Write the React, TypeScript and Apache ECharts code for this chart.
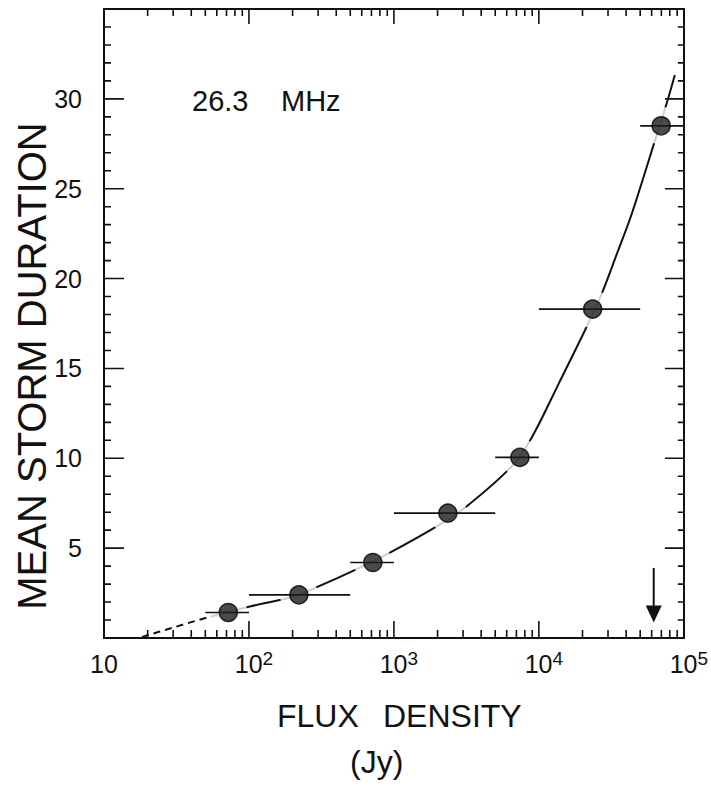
import React, { useEffect, useRef } from "react";
import * as echarts from "echarts";

// Flux density (Jy) vs mean storm duration, 26.3 MHz
const pointFlux = [72, 221, 716, 2356, 7400, 23500, 69800];
const pointDuration = [1.42, 2.4, 4.2, 6.95, 10.05, 18.3, 28.5];
const fluxLow = [50, 100, 500, 1000, 5000, 10000, 50000];
const fluxHigh = [100, 500, 1000, 5000, 10000, 50000, 100000];

// fitted curve: dashed lead-in, then the solid part
const leadFlux = [18.3, 29.4, 53, 72];
const leadDuration = [0.06, 0.56, 1.17, 1.44];
const curveFlux = [72, 105, 198, 294, 574, 925, 2042, 3184, 6516, 8954, 13740, 21090, 27180, 33960, 43760, 64090, 76380, 86700];
const curveDuration = [1.44, 1.78, 2.28, 2.83, 3.89, 4.72, 6.28, 7.33, 9.56, 11.17, 14.17, 17.22, 19.17, 21.22, 23.61, 27.83, 29.78, 31.33];

// upper-limit arrow
const arrowFlux = 62000;
const arrowTop = 3.9;
const arrowHead = 1.33;

// axis ranges and ticks
const xMin = 10;
const xMax = 100000;
const yMin = 0;
const yMax = 35;
const yStep = 5;
const xTicks = [10, 20, 30, 40, 50, 60, 70, 80, 90, 100, 200, 300, 400, 500, 600, 700, 800, 900, 1000, 2000, 3000, 4000, 5000, 6000, 7000, 8000, 9000, 10000, 20000, 30000, 40000, 50000, 60000, 70000, 80000, 90000, 100000];
const yTicks = [0, 1, 2, 3, 4, 5, 6, 7, 8, 9, 10, 11, 12, 13, 14, 15, 16, 17, 18, 19, 20, 21, 22, 23, 24, 25, 26, 27, 28, 29, 30, 31, 32, 33, 34, 35];

const FONT = "'Liberation Sans', Arial, sans-serif";
const INK = "#111";

// plot box in pixels
const GRID = { left: 104, top: 9, width: 582, height: 629 };
const pxPerUnit = GRID.height / (yMax - yMin);
const pxPerDecade = GRID.width / Math.log10(xMax / xMin);

const zip = (a: number[], b: number[]) => a.map((v, i) => [v, b[i]]);
const isDecade = (v: number) => Math.abs(Math.log10(v) - Math.round(Math.log10(v))) < 1e-9;
const isFive = (v: number) => v % yStep === 0;

// tick combs: run along a frame side and out to each tick and back
const bottomComb = xTicks.flatMap((v) => {
  const h = (isDecade(v) ? 17 : 8) / pxPerUnit;
  return [[v, yMin], [v, yMin + h], [v, yMin]];
});
const topComb = xTicks.flatMap((v) => {
  const h = (isDecade(v) ? 15 : 7) / pxPerUnit;
  return [[v, yMax], [v, yMax - h], [v, yMax]];
});
const leftComb = yTicks.flatMap((v) => {
  const f = Math.pow(10, (isFive(v) ? 20 : 7) / pxPerDecade);
  return [[xMin, v], [xMin * f, v], [xMin, v]];
});
const rightComb = yTicks.flatMap((v) => {
  const f = Math.pow(10, (isFive(v) ? 19 : 6) / pxPerDecade);
  return [[xMax, v], [xMax / f, v], [xMax, v]];
});

const textGraphics = [
  { type: "text", left: 192, top: 86, style: { text: "26.3", font: `29px ${FONT}`, fill: INK } },
  { type: "text", left: 281, top: 86, style: { text: "MHz", font: `29px ${FONT}`, fill: INK } },
  {
    type: "text",
    x: 32,
    y: 366,
    rotation: Math.PI / 2,
    style: { text: "MEAN STORM DURATION", font: `40px ${FONT}`, fill: INK, align: "center", verticalAlign: "middle" },
  },
  { type: "text", left: 277, top: 700, style: { text: "FLUX", font: `32px ${FONT}`, fill: INK } },
  { type: "text", left: 383, top: 700, style: { text: "DENSITY", font: `32px ${FONT}`, fill: INK } },
  { type: "text", left: 350, top: 746, style: { text: "(Jy)", font: `32px ${FONT}`, fill: INK } },
];

const combSeries = (data: number[][]) => ({
  type: "line",
  data,
  symbol: "none",
  silent: true,
  lineStyle: { color: INK, width: 1.6 },
  z: 6,
});

export default function App() {
  const ref = useRef<HTMLDivElement>(null);

  useEffect(() => {
    if (!ref.current) return;
    const chart = echarts.init(ref.current, null, { renderer: "svg" });

    const xAxisBase = {
      type: "log" as const,
      logBase: 10,
      min: xMin,
      max: xMax,
      splitLine: { show: false },
      minorTick: { show: false },
      axisTick: { show: false },
      axisLine: { show: true, onZero: false, lineStyle: { color: INK, width: 2 } },
    };
    const yAxisBase = {
      type: "value" as const,
      min: yMin,
      max: yMax,
      interval: yStep,
      splitLine: { show: false },
      minorTick: { show: false },
      axisTick: { show: false },
      axisLine: { show: true, onZero: false, lineStyle: { color: INK, width: 2 } },
    };

    chart.setOption({
      animation: false,
      backgroundColor: "#fff",
      grid: { ...GRID, containLabel: false },
      xAxis: [
        {
          ...xAxisBase,
          position: "bottom",
          axisLabel: {
            show: true,
            margin: 11,
            color: INK,
            fontFamily: FONT,
            fontSize: 25,
            formatter: (v: number) => {
              const e = Math.round(Math.log10(v));
              return e === 1 ? "{b|10}" : "{p|10}{s|" + e + "}";
            },
            rich: {
              b: { fontSize: 25, fontFamily: FONT, color: INK, lineHeight: 30 },
              p: { fontSize: 25, fontFamily: FONT, color: INK, lineHeight: 30, padding: [0, 0, 0, 10] },
              s: { fontSize: 19, fontFamily: FONT, color: INK, lineHeight: 30, padding: [0, 0, 12, 0] },
            },
          },
        },
        { ...xAxisBase, position: "top", axisLabel: { show: false } },
      ],
      yAxis: [
        {
          ...yAxisBase,
          position: "left",
          axisLabel: {
            show: true,
            margin: 22,
            color: INK,
            fontFamily: FONT,
            fontSize: 25,
            formatter: (v: number) => (v === yMin || v === yMax ? "" : String(v)),
          },
        },
        { ...yAxisBase, position: "right", axisLabel: { show: false } },
      ],
      graphic: textGraphics,
      series: [
        {
          type: "line",
          data: zip(leadFlux, leadDuration),
          smooth: 0.3,
          symbol: "none",
          lineStyle: { color: INK, width: 2, type: [7, 5] },
          z: 2,
        },
        {
          type: "line",
          data: zip(curveFlux, curveDuration),
          smooth: 0.3,
          symbol: "none",
          lineStyle: { color: INK, width: 2 },
          z: 2,
        },
        {
          // white gap around each point breaking the curve
          type: "scatter",
          data: zip(pointFlux, pointDuration),
          symbolSize: 38,
          itemStyle: { color: "#fff" },
          silent: true,
          z: 3,
        },
        {
          // horizontal error bars
          type: "custom",
          data: pointFlux.map((_, i) => [fluxLow[i], fluxHigh[i], pointDuration[i]]),
          encode: { x: [0, 1], y: 2 },
          renderItem: (params: any, api: any) => {
            const i = params.dataIndex;
            const a = api.coord([fluxLow[i], pointDuration[i]]);
            const b = api.coord([fluxHigh[i], pointDuration[i]]);
            return {
              type: "line",
              shape: { x1: a[0], y1: a[1], x2: b[0], y2: b[1] },
              style: { stroke: INK, lineWidth: 1.7 },
            };
          },
          z: 4,
        },
        combSeries(bottomComb),
        combSeries(topComb),
        combSeries(leftComb),
        combSeries(rightComb),
        {
          type: "scatter",
          data: zip(pointFlux, pointDuration),
          symbolSize: 18,
          itemStyle: { color: "#1e1e1e", borderColor: "#000", borderWidth: 1.5 },
          z: 5,
        },
        {
          type: "line",
          data: [
            { value: [arrowFlux, arrowTop], symbol: "none" },
            { value: [arrowFlux, arrowHead], symbol: "triangle", symbolSize: [16, 17], symbolRotate: 180 },
          ],
          lineStyle: { color: INK, width: 2 },
          itemStyle: { color: INK },
          z: 4,
        },
      ],
    });

    return () => chart.dispose();
  }, []);

  return (
    <div
      ref={ref}
      style={{ position: "fixed", left: 0, top: 0, width: 711, height: 788, background: "#fff" }}
    />
  );
}
